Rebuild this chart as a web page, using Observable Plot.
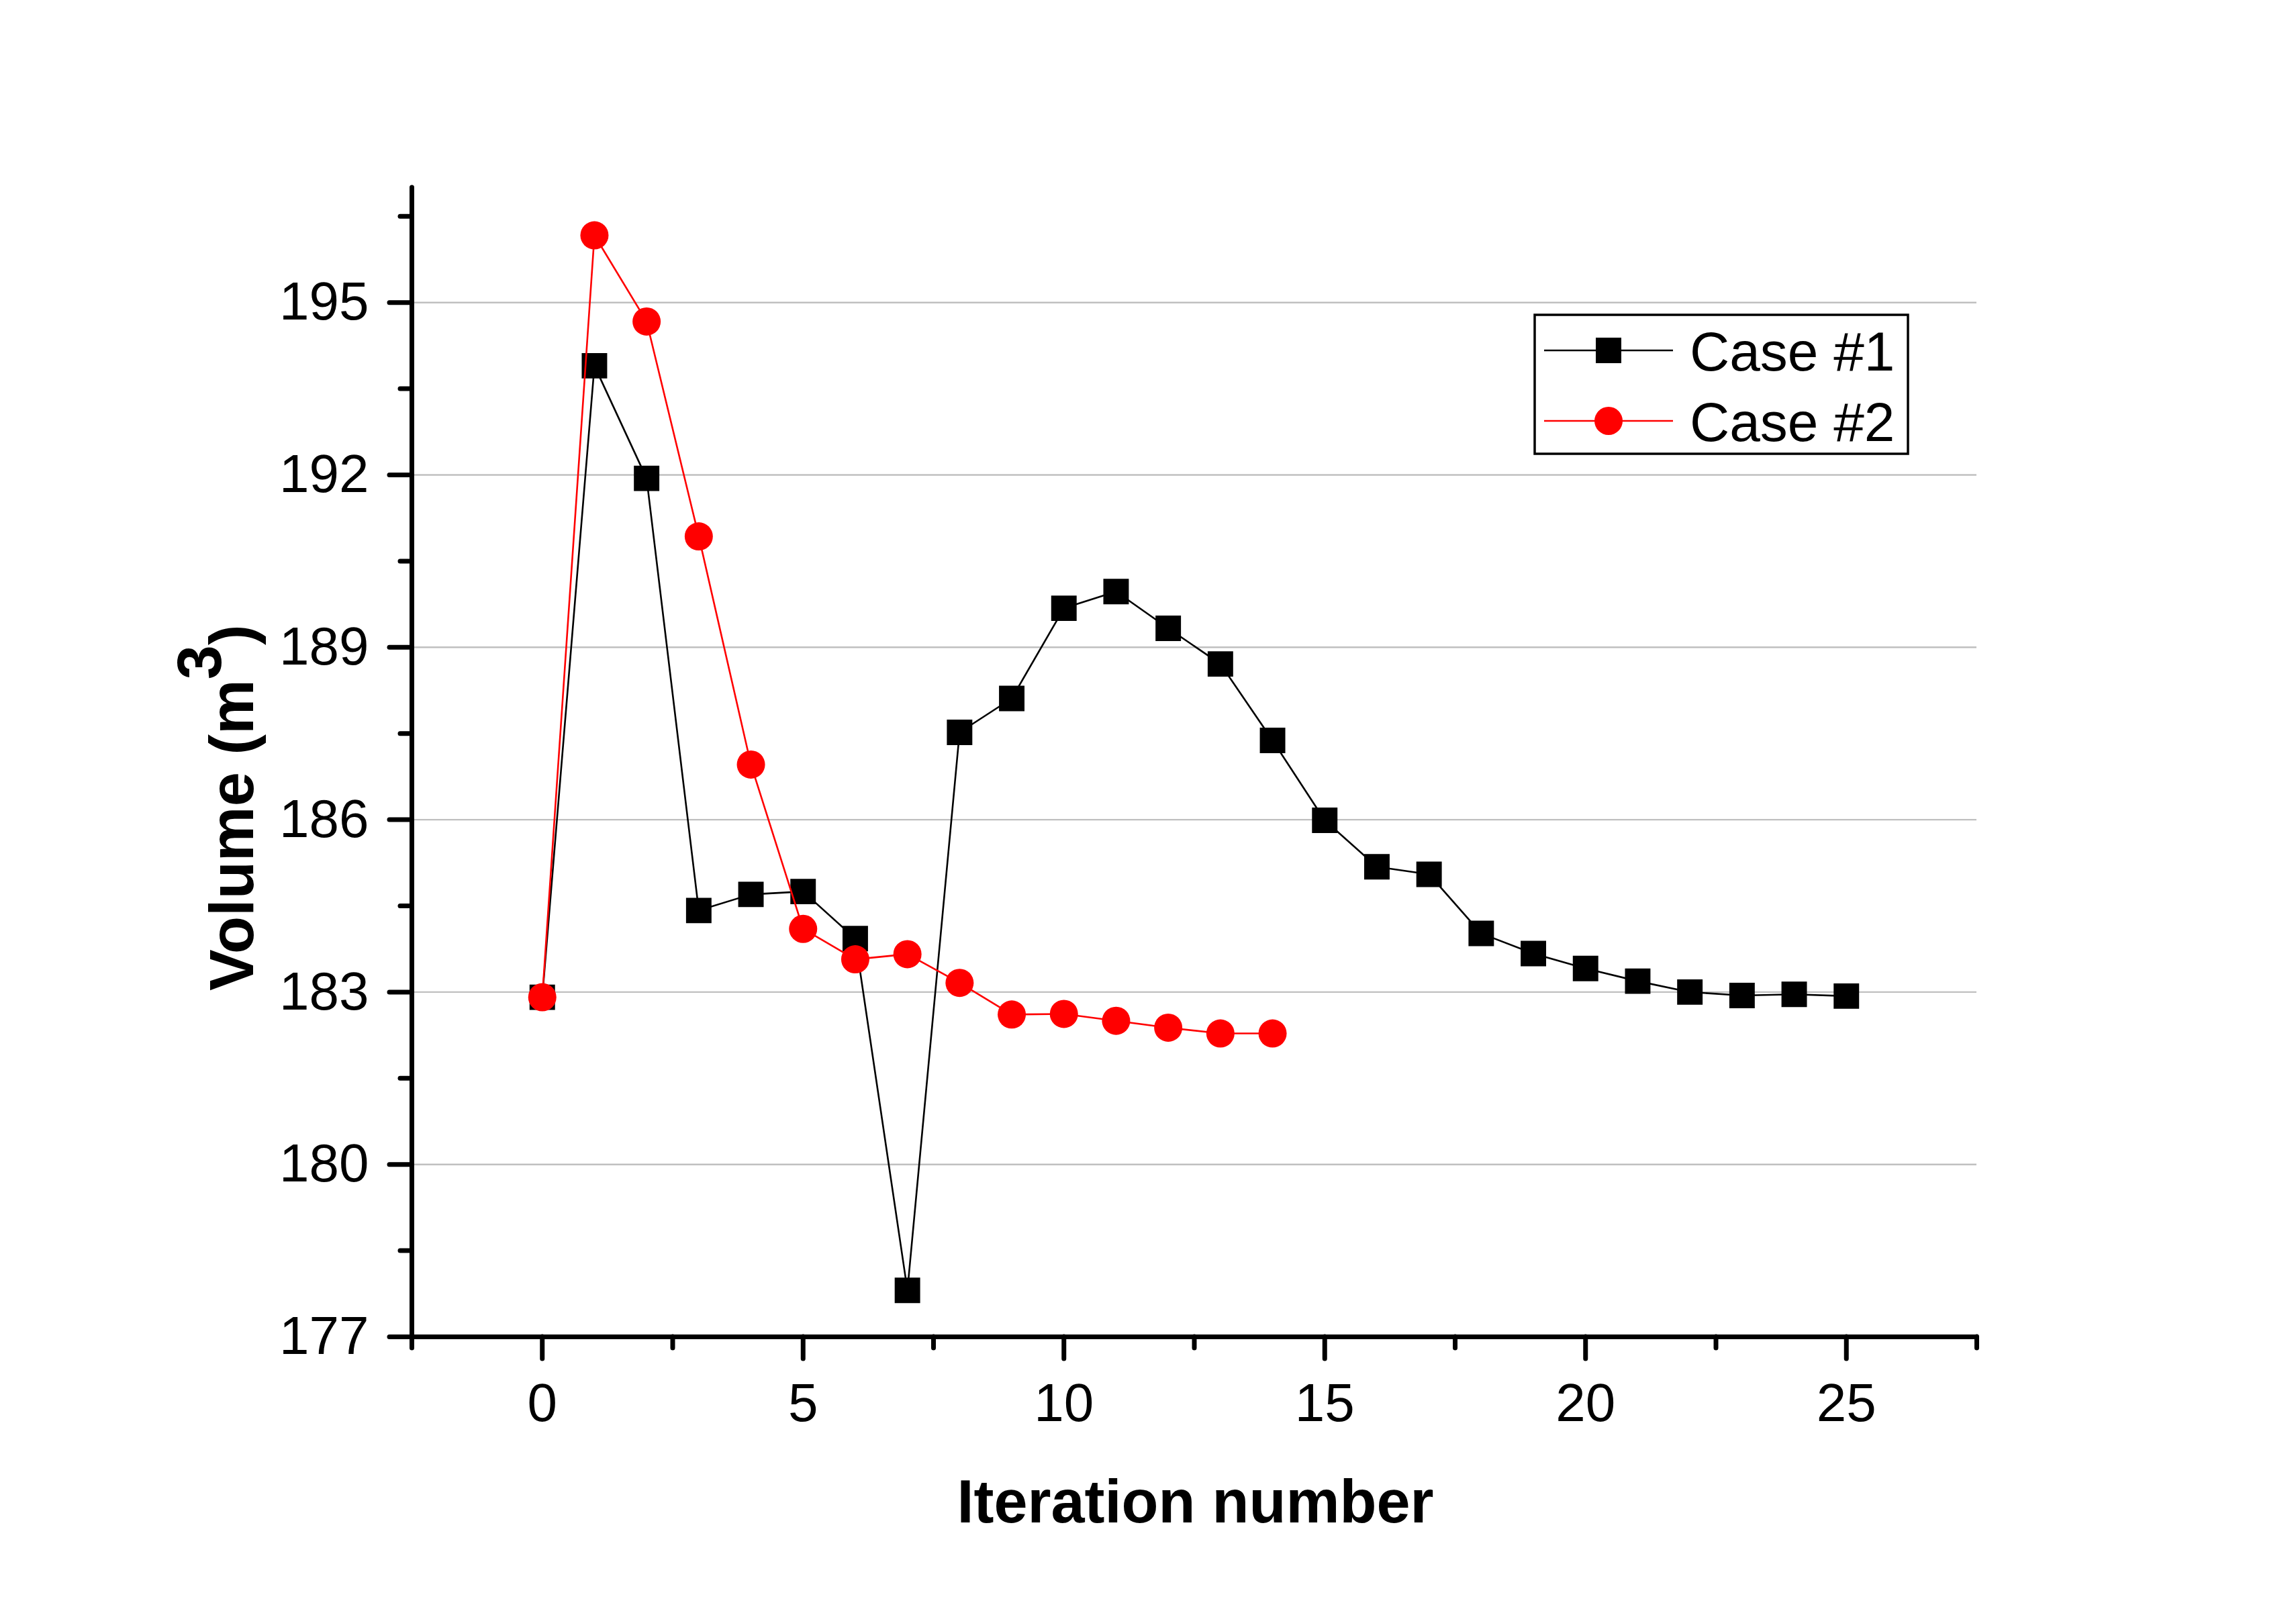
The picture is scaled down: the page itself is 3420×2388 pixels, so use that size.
<!DOCTYPE html>
<html>
<head>
<meta charset="utf-8">
<script src="https://cdn.jsdelivr.net/npm/d3@7"></script>
<script src="https://cdn.jsdelivr.net/npm/@observablehq/plot@0.6"></script>
<style>
  html, body { margin: 0; padding: 0; background: #ffffff; }
  #chart svg { display: block; }
</style>
</head>
<body>
<div id="chart"></div>
<script>
// ---- Data ----
const case1Iter = [0, 1, 2, 3, 4, 5, 6, 7, 8, 9, 10, 11, 12, 13, 14, 15, 16, 17, 18, 19, 20, 21, 22, 23, 24, 25];
const case1Vol  = [182.91, 193.90, 191.94, 184.42, 184.70, 184.75, 183.93, 177.81, 187.52, 188.11,
                   189.68, 189.97, 189.33, 188.71, 187.38, 185.99, 185.18, 185.05, 184.02, 183.67,
                   183.41, 183.19, 183.00, 182.94, 182.96, 182.93];
const case2Iter = [0, 1, 2, 3, 4, 5, 6, 7, 8, 9, 10, 11, 12, 13, 14];
const case2Vol  = [182.91, 196.17, 194.67, 190.93, 186.96, 184.10, 183.57, 183.66, 183.16, 182.61,
                   182.62, 182.50, 182.38, 182.28, 182.28];

const seriesNames = ["Case #1", "Case #2"];
const seriesColors = ["#000000", "#ff0000"];

const xMajorTicks = [0, 5, 10, 15, 20, 25];
const xMinorTicks = [-2.5, 2.5, 7.5, 12.5, 17.5, 22.5, 27.5];
const yMajorTicks = [177, 180, 183, 186, 189, 192, 195];
const yMinorTicks = [178.5, 181.5, 184.5, 187.5, 190.5, 193.5, 196.5];

const xTitle = "Iteration number";
const yTitleMain = "Volume (m";
const yTitleSup = "3";
const yTitleEnd = ")";

// ---- Build table ----
const case1 = case1Iter.map((it, i) => ({iter: it, vol: case1Vol[i]}));
const case2 = case2Iter.map((it, i) => ({iter: it, vol: case2Vol[i]}));

const W = 3420, H = 2388;
const mL = 613, mR = 476, mT = 279, mB = 397;
const axisW = 7;
const fam = "'Liberation Sans', Arial, sans-serif";

const chart = Plot.plot({
  width: W,
  height: H,
  marginLeft: mL,
  marginRight: mR,
  marginTop: mT,
  marginBottom: mB,
  style: {
    fontFamily: fam,
    fontSize: "80px",
    background: "#ffffff",
    color: "#000000",
    overflow: "visible"
  },
  x: {domain: [-2.5, 27.5]},
  y: {domain: [177, 197]},
  marks: [
    Plot.gridY(yMajorTicks.filter(d => d > 177), {stroke: "#c0c0c0", strokeOpacity: 1, strokeWidth: 2.4}),
    // axis lines
    Plot.ruleX([-2.5], {stroke: "#000", strokeWidth: axisW, strokeLinecap: "round"}),
    Plot.ruleY([177], {stroke: "#000", strokeWidth: axisW, strokeLinecap: "round"}),
    // y axis ticks
    Plot.axisY(yMajorTicks, {tickSize: 33, tickPadding: 31, strokeWidth: axisW, strokeLinecap: "round",
      label: null, fontSize: 80, tickFormat: d3.format("d")}),
    Plot.axisY(yMinorTicks, {tickSize: 17, text: null, strokeWidth: axisW, strokeLinecap: "round", label: null}),
    // x axis ticks
    Plot.axisX(xMajorTicks, {tickSize: 33, tickPadding: 36, strokeWidth: axisW, strokeLinecap: "round",
      label: null, fontSize: 80, tickFormat: d3.format("d")}),
    Plot.axisX(xMinorTicks, {tickSize: 17, text: null, strokeWidth: axisW, strokeLinecap: "round", label: null}),
    // Case #1
    Plot.line(case1, {x: "iter", y: "vol", stroke: seriesColors[0], strokeWidth: 2.6}),
    Plot.dot(case1, {x: "iter", y: "vol", symbol: "square", r: 21.4, fill: seriesColors[0], stroke: "none"}),
    // Case #2
    Plot.line(case2, {x: "iter", y: "vol", stroke: seriesColors[1], strokeWidth: 2.6}),
    Plot.dot(case2, {x: "iter", y: "vol", symbol: "circle", r: 21, fill: seriesColors[1], stroke: "none"})
  ]
});

document.getElementById("chart").appendChild(chart);

// ---- Titles and legend ----
const svg = d3.select(chart);
svg.selectAll('g[aria-label$="axis tick"]')
  .attr("stroke-width", axisW)
  .attr("stroke-linecap", "round");

const xs = chart.scale("x"), ys = chart.scale("y");
const frameL = xs.apply(-2.5), frameR = xs.apply(27.5);
const frameT = ys.apply(197), frameB = ys.apply(177);

// x-axis title
svg.append("text")
  .attr("x", (frameL + frameR) / 2 + 2)
  .attr("y", frameB + 277)
  .attr("text-anchor", "middle")
  .attr("font-family", fam)
  .attr("font-weight", "bold")
  .attr("font-size", 90)
  .attr("fill", "#000")
  .text(xTitle);

// y-axis title with superscript
const yt = svg.append("text")
  .attr("transform", `translate(${frameL - 236},${(frameT + frameB) / 2 + 68}) rotate(-90)`)
  .attr("text-anchor", "middle")
  .attr("font-family", fam)
  .attr("font-weight", "bold")
  .attr("font-size", 92)
  .attr("fill", "#000");
yt.append("tspan").text(yTitleMain);
yt.append("tspan").attr("dy", -48).text(yTitleSup);
yt.append("tspan").attr("dy", 48).text(yTitleEnd);

// legend
const lgX = frameL + 1673, lgY = frameT + 190, lgW = 556, lgH = 207;
const lg = svg.append("g");
lg.append("rect")
  .attr("x", lgX).attr("y", lgY).attr("width", lgW).attr("height", lgH)
  .attr("fill", "#fff").attr("stroke", "#000").attr("stroke-width", 3.5);
const rowsY = [lgY + 53, lgY + 158];
seriesNames.forEach((name, i) => {
  const cy = rowsY[i];
  lg.append("line")
    .attr("x1", lgX + 14).attr("x2", lgX + 206)
    .attr("y1", cy).attr("y2", cy)
    .attr("stroke", seriesColors[i]).attr("stroke-width", 2.6);
  if (i === 0) {
    lg.append("rect")
      .attr("x", lgX + 110 - 19).attr("y", cy - 19)
      .attr("width", 38).attr("height", 38)
      .attr("fill", seriesColors[i]);
  } else {
    lg.append("circle")
      .attr("cx", lgX + 110).attr("cy", cy).attr("r", 21)
      .attr("fill", seriesColors[i]);
  }
  lg.append("text")
    .attr("x", lgX + 231).attr("y", cy + 30)
    .attr("text-anchor", "start")
    .attr("font-family", fam)
    .attr("font-size", 82)
    .attr("fill", "#000")
    .text(name);
});
</script>
</body>
</html>
